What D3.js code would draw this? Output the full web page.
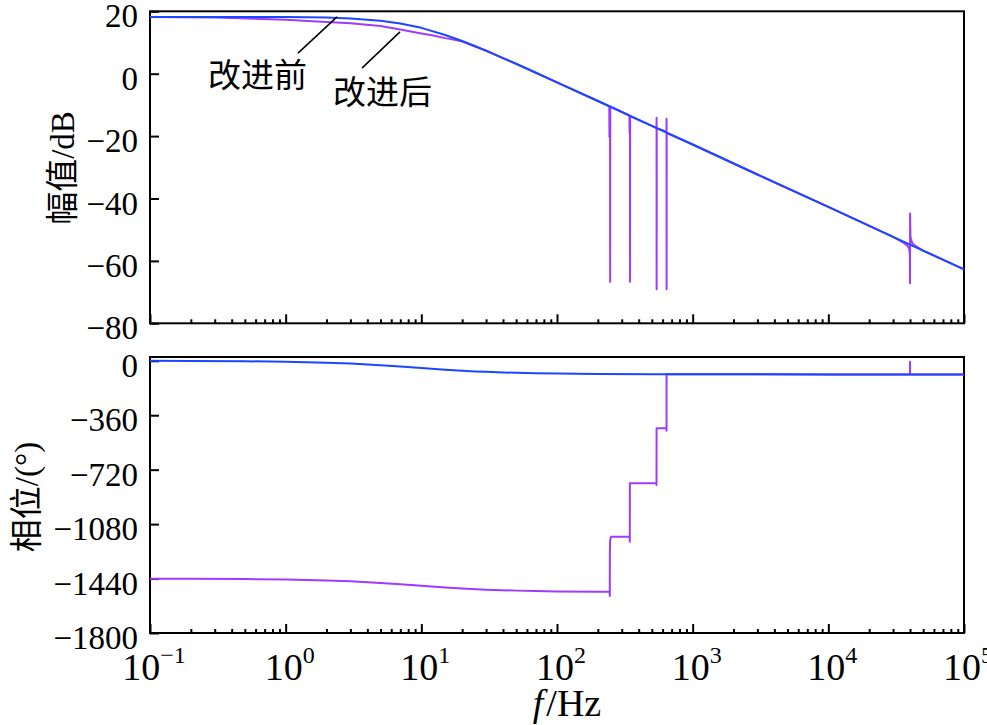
<!DOCTYPE html>
<html><head><meta charset="utf-8">
<script src="https://cdn.jsdelivr.net/npm/d3@7"></script>
<style>
body{margin:0;background:#fff}svg{display:block}
svg text{font-family:"Liberation Serif","Times New Roman",Times,serif;fill:#000}
svg text.cjk{font-family:"Noto Sans CJK SC","Liberation Serif",sans-serif}
</style>
</head><body><svg id="c" width="987" height="725"></svg>
<script>
// ---- data ----
const freqBefore = [0.1, 0.2, 0.5, 1, 2, 3, 5, 7, 10, 15, 20, 25, 30, 40, 50, 70, 100, 200, 500, 1000, 3000, 10000, 30000, 100000];
const magBefore = [18.2, 18.2, 18.19, 18.15, 18.0, 17.7, 17.0, 16.1, 14.7, 12.4, 10.5, 8.8, 7.4, 5.0, 3.2, 0.3, -2.8, -8.75, -16.7, -22.7, -32.3, -42.7, -52.3, -62.7];
const phaseBefore = [-0.6, -1.3, -3.2, -6.3, -12.5, -18.4, -29.1, -37.9, -48.0, -59.0, -65.8, -70.2, -73.3, -77.3, -79.8, -82.7, -84.9, -87.4, -89.0, -89.5, -89.8, -89.9, -90, -90];

const freqMagAfter = [0.1, 0.3, 1, 2, 3, 5, 7, 10, 12, 15, 18, 20, 25, 30, 40, 50, 100, 200,
  243, 243.5, 244, 246, 246.5, 247,
  342, 342.5, 343, 345, 345.5, 346,
  500, 541, 542, 542.5, 543.5,
  600, 641, 642, 642.5, 643.5,
  1000, 3000, 10000, 30000, 36000, 38500, 39500, 39900, 40000, 40050, 40300, 41500, 44000, 50000, 100000];
const magAfter = [18.2, 18.0, 17.3, 16.6, 16.2, 15.3, 14.2, 12.9, 12.3, 11.4, 10.8, 10.3, 8.7, 7.35, 5.0, 3.15, -2.8, -8.75,
  -10.4, -20.3, -10.4, -10.5, -66.7, -10.5,
  -13.4, -19.0, -13.4, -13.5, -66.7, -13.6,
  -16.7, -17.4, -14.1, -69.1, -17.5,
  -18.1, -18.9, -14.4, -69.1, -19.0,
  -22.7, -32.3, -42.7, -52.3, -54.2, -55.3, -56.2, -58.0, -67.2, -44.8, -52.3, -54.3, -55.3, -56.7, -62.7];

const freqPhaseAfter = [0.1, 0.2, 0.5, 1, 2, 3, 5, 7, 10, 15, 20, 30, 50, 70, 100, 200, 244,
  245, 245.3, 246.5, 250, 300, 343, 344, 344.5, 540, 541.5, 542, 640, 641.5, 642,
  1000, 3000, 10000, 30000, 39950, 40000, 40050, 100000];
const phaseAfter = [-1440.6, -1441.3, -1443.2, -1446.3, -1452.5, -1458.4, -1469.1, -1477.9, -1488, -1499, -1505.8, -1513.3, -1519.8, -1522.7, -1524.9, -1527.4, -1528,
  -1555, -1274, -1186, -1164, -1164, -1164, -1197, -810, -810, -821, -446, -446, -463, -89.5,
  -89.5, -89.8, -89.9, -90, -90, -6, -90, -90];

const magTicks = [20, 0, -20, -40, -60, -80];
const phaseTicks = [0, -360, -720, -1080, -1440, -1800];
const decadeExps = [-1, 0, 1, 2, 3, 4, 5];

const annotations = [
  {label: "改进前", tf: 0.268, tdb: -4.3, f0: 1.233, db0: 6.6, f1: 2.39, db1: 18.2},
  {label: "改进后", tf: 2.23, tdb: -9.7, f0: 3.65, db0: 1.8, f1: 6.96, db1: 13.4}
];

// ---- chart ----
const BLUE = "#1a47ff", PURPLE = "#9d3cff";
const svg = d3.select("#c");

const x = d3.scaleLog().domain([0.1, 1e5]).range([150, 964]);
const yMag = d3.scaleLinear().domain([-80, 20]).range([323.3, 11.3]);
const yPh = d3.scaleLinear().domain([-1800, 25]).range([633, 357]);

const majorVals = decadeExps.map(e => Math.pow(10, e));
const minorVals = [];
decadeExps.slice(0, -1).forEach(e => { for (let k = 2; k <= 9; k++) minorVals.push(k * Math.pow(10, e)); });

const fmt = v => (v < 0 ? "\u2212" : "") + Math.abs(v);

function panel(y, ticks) {
  const [y0, y1] = y.range();
  const g = svg.append("g");
  const la = g.append("g").attr("transform", "translate(150,0)")
    .call(d3.axisLeft(y).tickValues(ticks).tickFormat(fmt).tickSizeInner(-9).tickSizeOuter(0).tickPadding(12));
  la.attr("font-family", null).attr("font-size", null);
  la.select(".domain").remove();
  la.selectAll("line").attr("stroke", "#000").attr("stroke-width", 2);
  la.selectAll("text").attr("fill", null).style("font-size", "33px").attr("dy", "0.47em");
  [[majorVals, -9], [minorVals, -4]].forEach(([vals, sz]) => {
    const ba = g.append("g").attr("transform", `translate(0,${y0})`)
      .call(d3.axisBottom(x).tickValues(vals).tickSizeInner(sz).tickSizeOuter(0).tickFormat(""));
    ba.select(".domain").remove();
    ba.selectAll("line").attr("stroke", "#000").attr("stroke-width", 2);
  });
  g.append("rect").attr("x", x.range()[0]).attr("y", y1)
    .attr("width", x.range()[1] - x.range()[0]).attr("height", y0 - y1)
    .attr("fill", "none").attr("stroke", "#000").attr("stroke-width", 2);
}

panel(yMag, magTicks);
panel(yPh, phaseTicks);

function drawLine(xs, ys, y, color) {
  const pts = xs.map((f, i) => [f, ys[i]]);
  svg.append("path").datum(pts)
    .attr("d", d3.line().x(d => x(d[0])).y(d => y(d[1])))
    .attr("fill", "none").attr("stroke", color).attr("stroke-width", 2)
    .attr("stroke-linejoin", "round");
}

drawLine(freqMagAfter, magAfter, yMag, PURPLE);
drawLine(freqBefore, magBefore, yMag, BLUE);
drawLine(freqPhaseAfter, phaseAfter, yPh, PURPLE);
drawLine(freqBefore, phaseBefore, yPh, BLUE);

// x tick labels 10^n
decadeExps.forEach(e => {
  const t = svg.append("text").attr("x", x(Math.pow(10, e)) + 4).attr("y", 680)
    .attr("text-anchor", "middle").style("font-size", "38px");
  t.append("tspan").text("10");
  t.append("tspan").style("font-size", "24px").attr("dy", -17).text(e < 0 ? "\u2212" + (-e) : String(e));
});

// axis titles
function title(tx, ty, cjk, rest) {
  const t = svg.append("text").attr("transform", `translate(${tx},${ty}) rotate(-90)`).attr("dy", "0.35em")
    .attr("text-anchor", "middle").style("font-size", "33px");
  t.append("tspan").style("font-family", '"Noto Sans CJK SC", sans-serif').text(cjk);
  t.append("tspan").text(rest);
}
title(62, 168, "幅值", "/dB");
title(26, 497, "相位", "/(°)");

const xt = svg.append("text").attr("x", 567).attr("y", 716).attr("text-anchor", "middle").style("font-size", "38px");
xt.append("tspan").style("font-style", "italic").text("f");
xt.append("tspan").attr("dx", 3).text("/Hz");

// annotations
annotations.forEach(a => {
  svg.append("line").attr("x1", x(a.f0)).attr("y1", yMag(a.db0)).attr("x2", x(a.f1)).attr("y2", yMag(a.db1))
    .attr("stroke", "#000").attr("stroke-width", 1.5);
  svg.append("text").attr("class", "cjk").attr("x", x(a.tf)).attr("y", yMag(a.tdb))
    .style("font-size", "33px").text(a.label);
});
</script>
</body></html>
